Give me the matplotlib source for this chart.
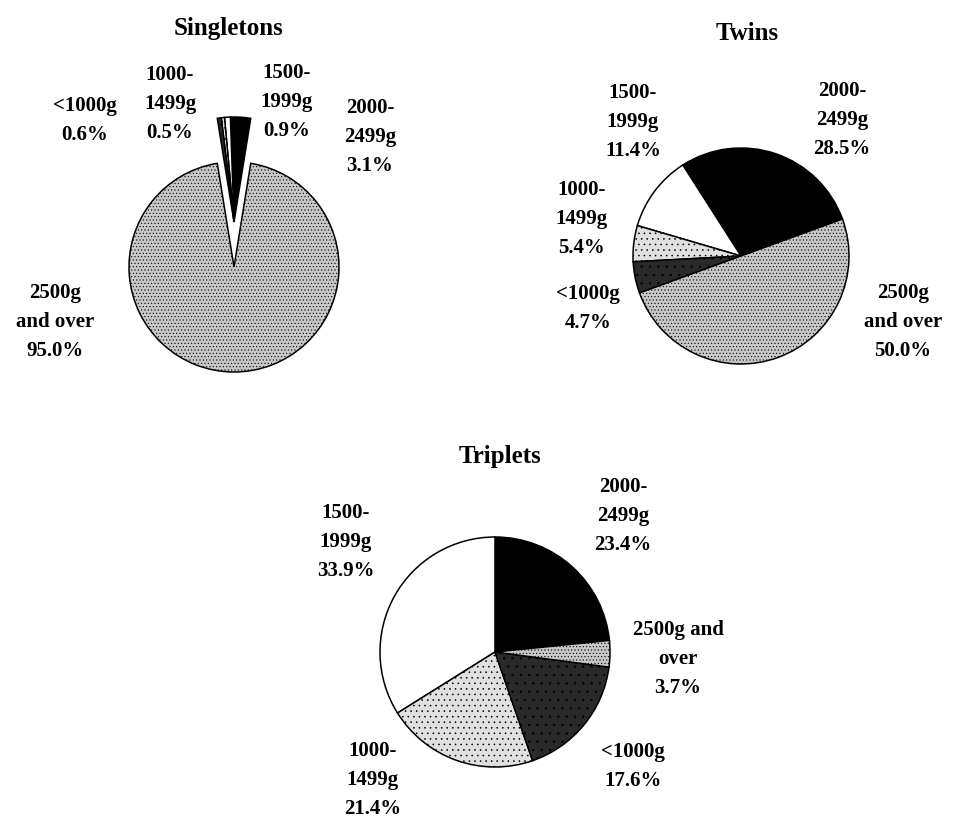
import matplotlib.pyplot as plt

# categories in drawing order (counterclockwise)
categories = ['2000-2499g', '1500-1999g', '1000-1499g', '<1000g', '2500g and over']

singletons = [3.1, 0.9, 0.5, 0.6, 95.0]
twins = [28.5, 11.4, 5.4, 4.7, 50.0]
triplets = [23.4, 33.9, 21.4, 17.6, 3.7]

# label wording as printed on each chart
singleton_names = ['2000-\n2499g', '1500-\n1999g', '1000-\n1499g', '<1000g', '2500g\nand over']
twin_names = ['2000-\n2499g', '1500-\n1999g', '1000-\n1499g', '<1000g', '2500g\nand over']
triplet_names = ['2000-\n2499g', '1500-\n1999g', '1000-\n1499g', '<1000g', '2500g and\nover']

W, H = 956, 820

# fill styles for each category: (facecolor, hatch)
styles = {
    '2000-2499g': ('black', None),
    '1500-1999g': ('white', None),
    '1000-1499g': ('#e0e0e0', '...'),
    '<1000g': ('#2a2a2a', '..'),
    '2500g and over': ('#c8c8c8', '.....'),
}

plt.rcParams['hatch.linewidth'] = 0.4
fig = plt.figure(figsize=(W / 100, H / 100), dpi=100)
ax = fig.add_axes([0, 0, 1, 1])
ax.set_xlim(0, W)
ax.set_ylim(0, H)
ax.set_aspect('equal')
ax.axis('off')

font = dict(family='Liberation Serif', weight='bold', fontsize=15)
title_font = dict(family='Liberation Serif', weight='bold', fontsize=18)


def px(x, y):
    # picture coordinates (origin top left) -> axes data
    return x, H - y


def draw_pie(values, names, center, radius, start, label_pos, lift=None):
    cx, cy = px(*center)
    wedges, _ = ax.pie(values, startangle=start, counterclock=True,
                       center=(cx, cy), radius=radius,
                       wedgeprops=dict(edgecolor='black', linewidth=1.1))
    ax.set_xlim(0, W)
    ax.set_ylim(0, H)
    for w, cat in zip(wedges, categories):
        fc, hatch = styles[cat]
        w.set_facecolor(fc)
        if hatch:
            w.set_hatch(hatch)
    if lift:
        # pull the small slices out together as one wedge
        for w in wedges[:4]:
            w.set_center((cx, cy + lift))
    for name, val, pos in zip(names, values, label_pos):
        tx, ty = px(*pos)
        ax.text(tx, ty, f'{name}\n{val:.1f}%', ha='center', va='center',
                multialignment='center', linespacing=1.6, **font)


draw_pie(singletons, singleton_names, (234, 268), 105,
         90 - sum(singletons[:4]) * 3.6 / 2,
         [(370, 137), (287, 102), (170, 104), (85, 121), (55, 322)], lift=45)
ax.text(*px(228, 28), 'Singletons', ha='center', va='center', **title_font)

draw_pie(twins, twin_names, (741, 257), 108, 20,
         [(842, 120), (633, 122), (582, 219), (588, 309), (903, 322)])
ax.text(*px(747, 33), 'Twins', ha='center', va='center', **title_font)

draw_pie(triplets, triplet_names, (495, 653), 115,
         90 - triplets[0] * 3.6,
         [(623, 516), (346, 542), (373, 780), (633, 767), (678, 659)])
ax.text(*px(500, 457), 'Triplets', ha='center', va='center', **title_font)

fig.savefig('out.png', dpi=100, facecolor='white')
